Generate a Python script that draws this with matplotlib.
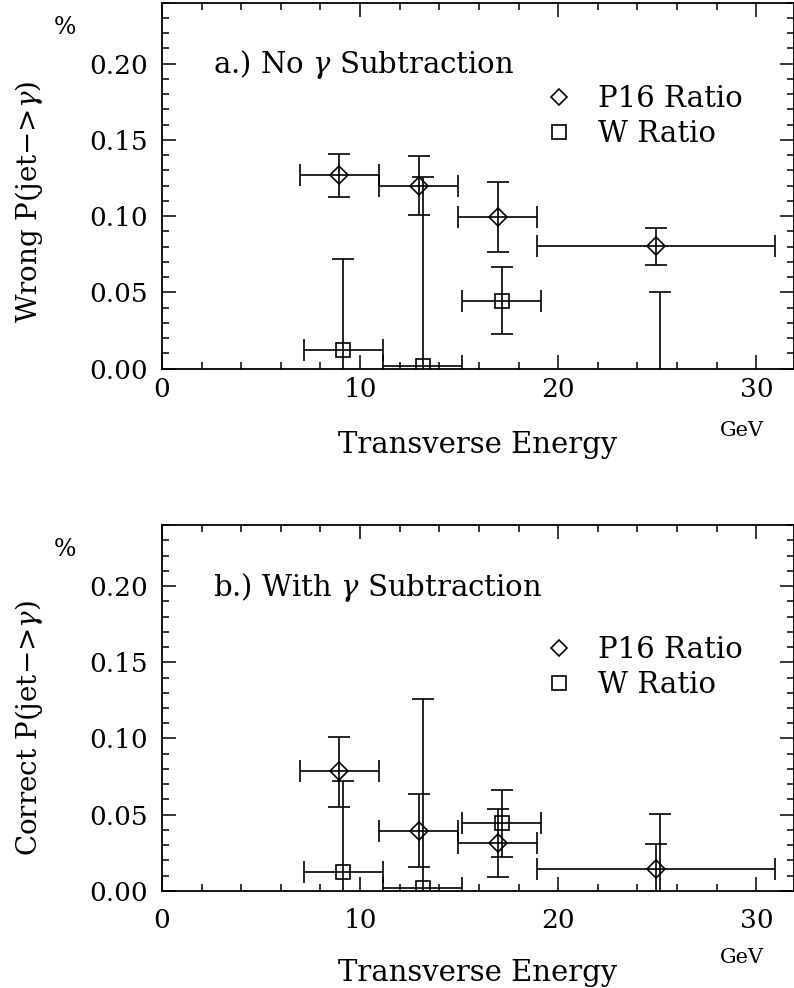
import numpy as np
import matplotlib.pyplot as plt
from matplotlib.ticker import MultipleLocator, FormatStrFormatter
from matplotlib.lines import Line2D

plt.rcParams['font.family'] = 'DejaVu Serif'
plt.rcParams['mathtext.fontset'] = 'dejavuserif'

# bin centres (GeV) and half widths
et_p16 = [8.95, 12.95, 16.95, 24.95]
et_w = [9.15, 13.15, 17.15, 25.15]
et_half = [2.0, 2.0, 2.0, 6.0]

# a.) no gamma subtraction
p16_a = [0.127, 0.120, 0.0995, 0.0805]
p16_a_lo = [0.0143, 0.0191, 0.0232, 0.0125]
p16_a_hi = [0.0140, 0.0197, 0.0230, 0.0118]

# b.) with gamma subtraction
p16_b = [0.0785, 0.0393, 0.0315, 0.0142]
p16_b_lo = [0.0231, 0.0235, 0.0222, 0.0163]
p16_b_hi = [0.0227, 0.0244, 0.0220, 0.0163]

# W ratio (same in both panels)
w_ratio = [0.0123, 0.0018, 0.0444, -0.020]
w_err = [0.0596, 0.1240, 0.0220, 0.0705]

panel_text = ['a.) No $\\gamma$ Subtraction', 'b.) With $\\gamma$ Subtraction']
ylabels = ['Wrong P(jet\u2212>$\\gamma$)', 'Correct P(jet\u2212>$\\gamma$)']
legend_labels = ['P16 Ratio', 'W Ratio']


def style_axes(ax, xpad):
    ax.set_xlim(0, 31.9)
    ax.set_ylim(0, 0.24)
    ax.xaxis.set_major_locator(MultipleLocator(10))
    ax.xaxis.set_minor_locator(MultipleLocator(2))
    ax.yaxis.set_major_locator(MultipleLocator(0.05))
    ax.yaxis.set_minor_locator(MultipleLocator(0.01))
    ax.yaxis.set_major_formatter(FormatStrFormatter('%.2f'))
    ax.tick_params(which='both', direction='in', top=True, right=True,
                   width=1.1, labelsize=19)
    ax.tick_params(which='major', length=10)
    ax.tick_params(which='minor', length=5)
    ax.tick_params(axis='y', pad=10)
    ax.tick_params(axis='x', pad=xpad)
    for s in ax.spines.values():
        s.set_linewidth(1.3)


fig = plt.figure(figsize=(7.94, 9.88), dpi=100)
ax_a = fig.add_axes([0.204, 0.627, 0.796, 0.3704])
ax_b = fig.add_axes([0.204, 0.0982, 0.796, 0.3704])

ebkw = dict(ls='none', color='k', mfc='none', mec='k', mew=1.2,
            elinewidth=1.2, capsize=8, capthick=1.2)

for ax, p16, lo, hi, txt, yl, xpad, legy in [
        (ax_a, p16_a, p16_a_lo, p16_a_hi, panel_text[0], ylabels[0], 6, 0.775),
        (ax_b, p16_b, p16_b_lo, p16_b_hi, panel_text[1], ylabels[1], 12, 0.697)]:
    style_axes(ax, xpad)
    ax.errorbar(et_p16, p16, xerr=et_half, yerr=[lo, hi], marker='D', ms=9, **ebkw)
    ax.errorbar(et_w, w_ratio, xerr=et_half, yerr=w_err, marker='s', ms=10, **ebkw)
    ax.text(0.081, 0.83, txt, transform=ax.transAxes, fontsize=21, va='center')
    handles = [Line2D([], [], ls='none', marker='D', ms=8, mfc='none', mec='k', mew=1.2),
               Line2D([], [], ls='none', marker='s', ms=10.5, mfc='none', mec='k', mew=1.2)]
    ax.legend(handles, legend_labels, loc='upper left', bbox_to_anchor=(0.605, legy),
              frameon=False, fontsize=21, handlelength=1.0, handletextpad=0.85,
              borderpad=0, borderaxespad=0, labelspacing=0.25)

# axis labels
fig.text(0.0365, 1 - 323 / 988, ylabels[0], rotation=90, ha='center', va='bottom', fontsize=20)
fig.text(0.0365, 1 - 856 / 988, ylabels[1], rotation=90, ha='center', va='bottom', fontsize=20)
for ypx in [28, 550]:
    fig.text(65 / 794, 1 - ypx / 988, '%', ha='center', va='center', fontsize=17)
for ypx in [445, 973]:
    fig.text(478 / 794, 1 - ypx / 988, 'Transverse Energy', ha='center', va='center', fontsize=21)
for ypx in [430, 957]:
    fig.text(742 / 794, 1 - ypx / 988, 'GeV', ha='center', va='center', fontsize=15)

plt.savefig('out.png', dpi=100)
